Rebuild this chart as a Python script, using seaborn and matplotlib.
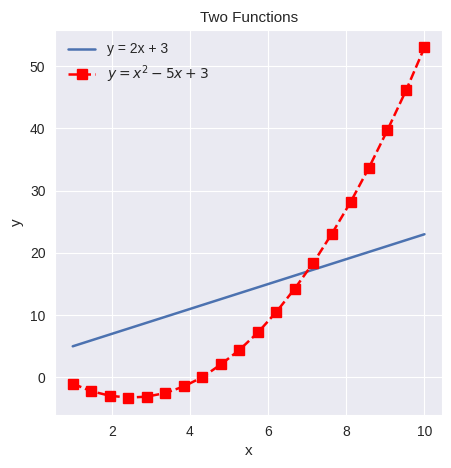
import matplotlib
matplotlib.use("Agg")
from matplotlib import pyplot as plt
import seaborn as sns

# straight line y = 2x + 3 (end points)
line_x = [1.0, 10.0]
line_y = [5.0, 23.0]

# quadratic samples
quad_x = [1.0, 1.47, 1.95, 2.42, 2.89, 3.37, 3.84, 4.32, 4.79, 5.26,
          5.74, 6.21, 6.68, 7.16, 7.63, 8.11, 8.58, 9.05, 9.53, 10.0]
quad_y = [-1.0, -2.2, -2.94, -3.24, -3.09, -2.5, -1.45, 0.05, 2.09, 4.39,
          7.23, 10.52, 14.26, 18.45, 23.08, 28.17, 33.7, 39.69, 46.12, 53.0]

sns.set_style("darkgrid")
plt.rcParams['font.family'] = ['Liberation Sans', 'DejaVu Sans']

fig, ax = plt.subplots(figsize=(4.52, 4.68), dpi=100)
sns.lineplot(x=line_x, y=line_y, ax=ax, label="y = 2x + 3",
             color="#4c72b0", linewidth=1.8)
ax.plot(quad_x, quad_y, linestyle="--", marker="s", color="red",
        markersize=6.5, linewidth=1.8, label=r"$y = x^2 - 5x + 3$")

ax.set_title("Two Functions", fontsize=11)
ax.set_xlabel("x", fontsize=11)
ax.set_ylabel("y", fontsize=11)
ax.set_xticks([2, 4, 6, 8, 10])
ax.legend(loc="upper left", frameon=False, fontsize=10)
ax.tick_params(labelsize=10)

fig.subplots_adjust(left=0.122, right=0.978, top=0.936, bottom=0.113)
fig.savefig("out.png")
